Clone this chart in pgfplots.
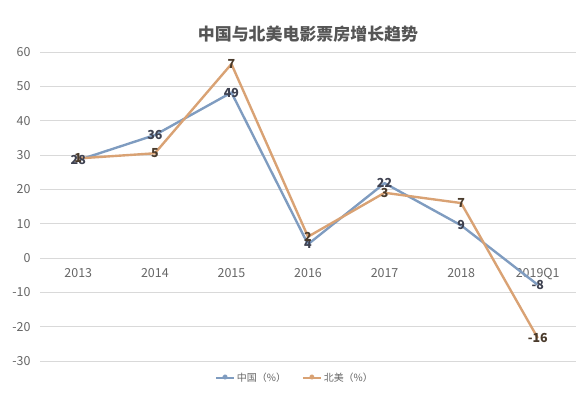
\documentclass[border=0pt]{standalone}
\usepackage{pgfplots}
\pgfplotsset{compat=1.18}
\usepackage{fontspec}
\setmainfont{Noto Sans CJK SC}
\definecolor{cnline}{HTML}{7F9CC0}
\definecolor{naline}{HTML}{D9A274}
\definecolor{ticktext}{HTML}{666666}
\definecolor{titletext}{HTML}{555555}
\definecolor{gridc}{HTML}{D9D9D9}
\definecolor{cnlab}{HTML}{3E4150}
\definecolor{nalab}{HTML}{4A3B2C}
\begin{document}
\begin{tikzpicture}[x=1bp,y=1bp]
\begin{axis}[
  scale only axis,
  width=536bp, height=309bp,
  xmin=-0.5, xmax=6.5,
  ymin=-30, ymax=60,
  ytick={-30,-20,...,60},
  xtick={0,...,6},
  xticklabels={2013,2014,2015,2016,2017,2018,2019Q1},
  axis x line=middle,
  axis y line=left,
  axis line style={draw=none},
  x axis line style={draw=none},
  y axis line style={draw=none},
  major tick length=0pt,
  ymajorgrids,
  grid style={gridc, line width=0.8pt},
  tick label style={font=\fontsize{12.5}{14}\selectfont, text=ticktext},
  xticklabel style={yshift=-7bp},
  yticklabel style={xshift=-6bp},
  /pgf/number format/assume math mode=true,
  title={中国与北美电影票房增长趋势},
  title style={at={(0.5,1)}, anchor=center, yshift=12bp, font=\fontsize{17}{19}\selectfont\bfseries, text=titletext},
  legend style={at={(0.5,0)}, anchor=center, yshift=-17bp, xshift=-13bp, draw=none, fill=none,
    font=\fontsize{10}{11}\selectfont, text=ticktext, legend columns=2,
    /tikz/every even column/.append style={column sep=14bp}},
  legend image code/.code={\draw[#1, line width=1.8pt] (0bp,0bp) -- (18bp,0bp); \fill[#1] (9bp,1bp) circle (1.5bp);},
  clip=false,
  nodes near coords={\pgfplotspointmeta},
  point meta=explicit symbolic,
  every node near coord/.append style={anchor=center, font=\fontsize{12.5}{14}\selectfont\bfseries},
]
\addplot[cnline, line width=2.4pt, line join=round, every node near coord/.append style={text=cnlab}] coordinates {
  (0,28.5) [28] (1,35.8) [36] (2,48.2) [49] (3,4) [4] (4,21.8) [22] (5,9.5) [9] (6,-7.8) [-8]
};
\addlegendentry{中国（\%）}
\addplot[naline, line width=2.4pt, line join=round, every node near coord/.append style={text=nalab}] coordinates {
  (0,29) [1] (1,30.5) [5] (2,56.5) [7] (3,6.2) [2] (4,19) [3] (5,16) [7] (6,-23.3) [-16]
};
\addlegendentry{北美（\%）}
\end{axis}
\path[use as bounding box] (-40bp,-35bp) rectangle (546bp,361bp);
\end{tikzpicture}
\end{document}
